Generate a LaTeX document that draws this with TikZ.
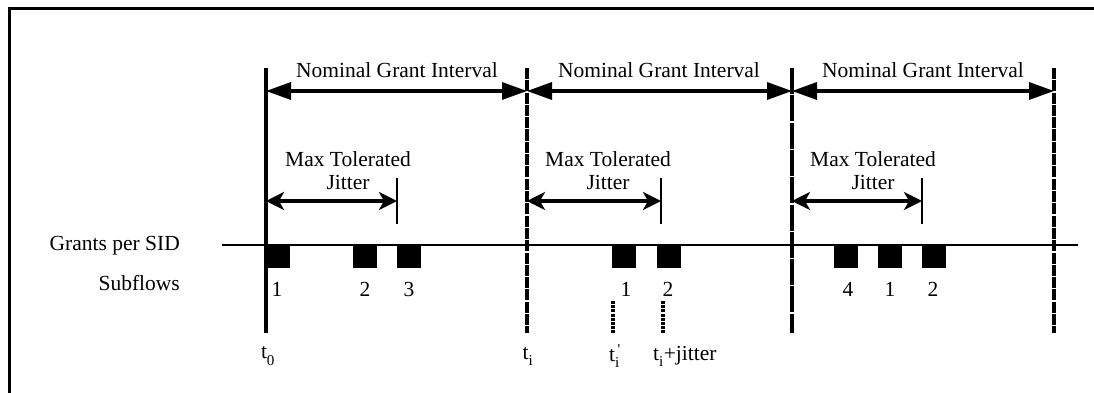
\documentclass[tikz,border=0pt]{standalone}
\usepackage{fontspec}
\setmainfont{Liberation Serif}
\usetikzlibrary{arrows.meta}
\newcommand{\lowsub}[1]{\raisebox{-3pt}{\textsubscript{#1}}}
\begin{document}
\begin{tikzpicture}[x=1pt,y=-1pt,
  every node/.style={font=\fontsize{21.5}{24}\selectfont, inner sep=0pt},
  frame/.style={line width=3.2pt},
  tline/.style={line width=3.4pt},
  dline/.style={line width=3.4pt, dash pattern=on 11pt off 1.3pt},
  lline/.style={line width=3.4pt, dash pattern=on 26pt off 1.3pt},
  nominal/.style={line width=3.4pt, {Triangle[length=25pt,width=17pt]}-{Triangle[length=25pt,width=17pt]}},
  jit/.style={line width=3.4pt, {Stealth[length=18pt,width=18pt,inset=5pt]}-{Stealth[length=18pt,width=18pt,inset=5pt]}},
  jtick/.style={line width=2.4pt},
  axis/.style={line width=2.8pt},
  grant/.style={fill=black, minimum width=24pt, minimum height=22pt, anchor=north west},
  probe/.style={line width=4pt, dash pattern=on 3pt off 1.2pt}
]
\useasboundingbox (0,0) rectangle (1094,393);

% frame (top and left edges)
\draw[frame] (9.5,393) -- (9.5,8.5) -- (1094,8.5);

% interval boundaries
\coordinate (b0t) at (266,68);  \coordinate (b0b) at (266,333);
\coordinate (b1t) at (527,68);  \coordinate (b1b) at (527,333);
\coordinate (b2t) at (792,68);  \coordinate (b2b) at (792,333);
\coordinate (b3t) at (1054,68); \coordinate (b3b) at (1054,333);
\draw[tline] (b0t) -- (b0b);
\draw[dline] (b1t) -- (b1b);
\draw[lline] (b2t) -- (b2b);
\draw[dline] (b3t) -- (b3b);

% nominal grant intervals
\coordinate (n0) at (266,91);
\coordinate (n1) at (527,91);
\coordinate (n2) at (792,91);
\coordinate (n3) at (1054,91);
\draw[nominal] (n0) -- (n1);
\draw[nominal] (n1) -- (n2);
\draw[nominal] (n2) -- (n3);
\node (ng1) at (397,70) {Nominal Grant Interval};
\node (ng2) at (659,70) {Nominal Grant Interval};
\node (ng3) at (923,70) {Nominal Grant Interval};

% max tolerated jitter
\coordinate (j0t) at (397,178); \coordinate (j0b) at (397,224);
\coordinate (j1t) at (661,178); \coordinate (j1b) at (661,224);
\coordinate (j2t) at (922,178); \coordinate (j2b) at (922,224);
\draw[jtick] (j0t) -- (j0b);
\draw[jtick] (j1t) -- (j1b);
\draw[jtick] (j2t) -- (j2b);
\coordinate (ja0) at (266,201); \coordinate (jz0) at (397,201);
\coordinate (ja1) at (527,201); \coordinate (jz1) at (661,201);
\coordinate (ja2) at (792,201); \coordinate (jz2) at (922,201);
\draw[jit] (ja0) -- (jz0);
\draw[jit] (ja1) -- (jz1);
\draw[jit] (ja2) -- (jz2);
\node[align=center] (mt1) at (348,171) {Max Tolerated\\[-1pt]Jitter};
\node[align=center] (mt2) at (608,171) {Max Tolerated\\[-1pt]Jitter};
\node[align=center] (mt3) at (873,171) {Max Tolerated\\[-1pt]Jitter};

% grant axis
\node[anchor=east] (gps) at (180,246) {Grants per SID};
\node[anchor=east] (sfl) at (180,283) {Subflows};
\coordinate (axs) at (222,245);
\coordinate (axe) at (1078,245);
\draw[axis] (axs) -- (axe);

% grants
\node[grant] (g1) at (266,246) {};
\node[grant] (g2) at (353,246) {};
\node[grant] (g3) at (397,246) {};
\node[grant] (g4) at (612,246) {};
\node[grant] (g5) at (657,246) {};
\node[grant] (g6) at (834,246) {};
\node[grant] (g7) at (878,246) {};
\node[grant] (g8) at (922,246) {};

% subflow numbers
\node (s1) at (277,289) {1};
\node (s2) at (365,289) {2};
\node (s3) at (409,289) {3};
\node (s4) at (626,289) {1};
\node (s5) at (668,289) {2};
\node (s6) at (848,289) {4};
\node (s7) at (890,289) {1};
\node (s8) at (933,289) {2};

% actual grant times
\coordinate (p1t) at (613,301); \coordinate (p1b) at (613,333);
\coordinate (p2t) at (663,301); \coordinate (p2b) at (663,333);
\draw[probe] (p1t) -- (p1b);
\draw[probe] (p2t) -- (p2b);

% time labels
\node (t0) at (268,356) {t\lowsub{0}};
\node (ti) at (528,356) {t\lowsub{i}};
\node (tp) at (615,356) {t\rlap{\lowsub{i}}\textsuperscript{\,\textquotesingle}};
\node[anchor=west] (tj) at (653,356) {t\lowsub{i}+jitter};
\end{tikzpicture}
\end{document}
